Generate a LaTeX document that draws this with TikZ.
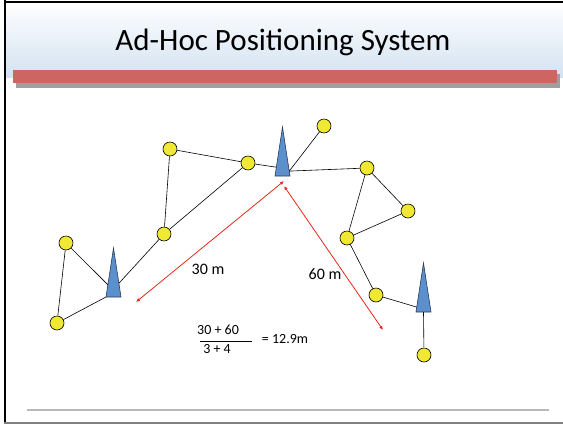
\documentclass[tikz,border=0pt]{standalone}
\usepackage{fontspec}
\setmainfont{Carlito}
\usetikzlibrary{arrows.meta, positioning, calc, shapes.geometric}
\definecolor{sensorfill}{RGB}{240,232,50}
\definecolor{beaconfill}{RGB}{92,144,204}
\definecolor{beacondraw}{RGB}{40,60,90}
\definecolor{barred}{RGB}{205,102,96}
\definecolor{rangered}{RGB}{232,38,27}
\definecolor{titleblue}{RGB}{211,226,242}

\begin{document}
\begin{tikzpicture}[x=1pt, y=-1pt, >={Latex[length=4pt,width=3.5pt]},
  sensor/.style={circle, draw, fill=sensorfill, minimum size=14pt, inner sep=0pt, line width=0.6pt},
  beacon/.style={isosceles triangle, shape border rotate=90, isosceles triangle stretches,
    minimum width=15pt, minimum height=49pt, inner sep=0pt, outer sep=0pt,
    draw=beacondraw, fill=beaconfill, line width=0.6pt, anchor=lower side},
  link/.style={line width=0.6pt},
  rangeline/.style={<->, draw=rangered, line width=0.8pt},
  distlabel/.style={font=\fontsize{16}{18}\selectfont, inner sep=0pt},
  fraclabel/.style={font=\fontsize{14}{16}\selectfont, inner sep=0pt}]
  \useasboundingbox (0,0) rectangle (563,424);

  % slide frame and title
  \shade[top color=white, bottom color=titleblue] (4,2) rectangle (563,77);
  \fill[gray!75] (16,74) rectangle (560,88);
  \fill[barred] (13,70) rectangle (557,83);
  \draw[line width=1.5pt] (4,2) -- (563,2);
  \draw[line width=2pt] (4.5,0) -- (4.5,424);
  \draw[gray, line width=1.5pt] (4,423) -- (563,423);
  \draw[gray!55, line width=2pt] (27,410) -- (549,410);
  \node[font=\fontsize{31}{35}\selectfont] (title) at (283,42) {Ad-Hoc Positioning System};

  % anchors
  \node[beacon] (T1) at (113.5,297) {};
  \node[beacon] (T2) at (282.5,176) {};
  \node[beacon] (T3) at (423.5,312) {};

  % unknown nodes
  \node[sensor] (c1) at (170,149) {};
  \node[sensor] (c2) at (248,163) {};
  \node[sensor] (c3) at (324,126) {};
  \node[sensor] (c4) at (367,168) {};
  \node[sensor] (c5) at (408,211) {};
  \node[sensor] (c6) at (347,238) {};
  \node[sensor] (c7) at (164,234) {};
  \node[sensor] (c8) at (66,243) {};
  \node[sensor] (c9) at (57,323) {};
  \node[sensor] (c10) at (376,295) {};
  \node[sensor] (c11) at (424,355) {};

  \draw[link] (c1) -- (c2);
  \draw[link] (c1) -- (c7);
  \draw[link] (c7) -- (c2);
  \draw[link] (c7) -- ($(T1.apex)!0.72!(T1.right corner)$);
  \draw[link] (c2) -- ($(T2.apex)!0.82!(T2.left corner)$);
  \draw[link] ($(T2.apex)!0.9!(T2.right corner)$) -- (c3);
  \draw[link] ($(T2.apex)!0.9!(T2.right corner)$) -- (c4);
  \draw[link] (c4) -- (c5);
  \draw[link] (c4) -- (c6);
  \draw[link] (c5) -- (c6);
  \draw[link] (c6) -- (c10);
  \draw[link] (c10) -- ($(T3.apex)!0.9!(T3.left corner)$);
  \draw[link] (T3.lower side) -- (c11);
  \draw[link] (c8) -- ($(T1.apex)!0.75!(T1.left corner)$);
  \draw[link] (c8) -- (c9);
  \draw[link] (c9) -- (T1.left corner);

  % distance estimates
  \coordinate (farA) at (136,302);
  \coordinate (farB) at (383,330);
  \draw[rangeline] (farA) -- ($(T2.lower side)+(1.5,5)$);
  \draw[rangeline] ($(T2.lower side)+(1.5,10)$) -- (farB);
  \node[distlabel] (d30) at (208,269) {30 m};
  \node[distlabel] (d60) at (325,274) {60 m};

  \node[fraclabel] (num) at (218,330) {30 + 60};
  \node[fraclabel] (den) at (217,349) {3 + 4};
  \draw[line width=0.7pt] (200,341) -- (252,341);
  \node[fraclabel] (hop) at (285,339) {= 12.9m};
\end{tikzpicture}
\end{document}
